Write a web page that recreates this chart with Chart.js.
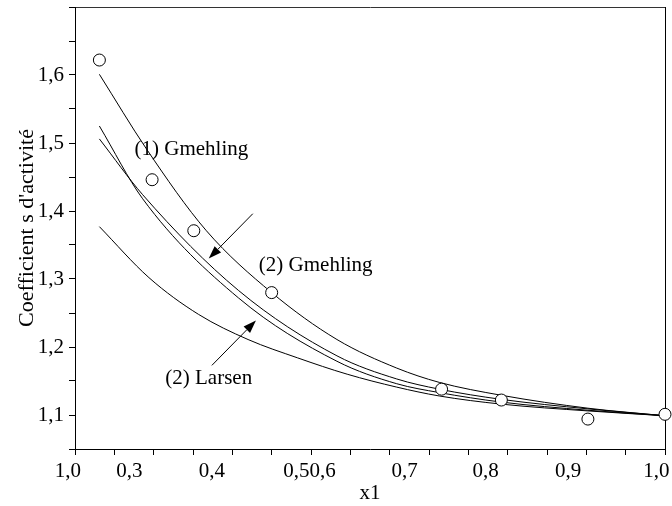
<!DOCTYPE html>
<html>
<head>
<meta charset="utf-8">
<script src="https://cdn.jsdelivr.net/npm/chart.js@4.4.0/dist/chart.umd.min.js"></script>
<style>
  html, body { margin: 0; padding: 0; background: #fff; }
  #wrap { width: 672px; height: 506px; }
</style>
</head>
<body>
<div id="wrap"><canvas id="chart" width="672" height="506"></canvas></div>
<script>
// points expérimentaux
var expX = [0.281, 0.348, 0.401, 0.500, 0.716, 0.792, 0.902, 1.000];
var expY = [1.622, 1.446, 1.371, 1.280, 1.138, 1.122, 1.094, 1.101];

// courbe du haut
var topX = [0.281, 0.341, 0.417, 0.500, 0.583, 0.659, 0.713, 0.792, 0.902, 0.999];
var topY = [1.601, 1.491, 1.371, 1.280, 1.211, 1.169, 1.148, 1.129, 1.110, 1.099];

// les deux courbes du milieu
var midAX = [0.281, 0.336, 0.458, 0.583, 0.659, 0.713, 0.792, 0.902, 0.999];
var midAY = [1.525, 1.418, 1.272, 1.179, 1.146, 1.133, 1.119, 1.107, 1.099];
var midBX = [0.281, 0.336, 0.458, 0.583, 0.659, 0.713, 0.792, 0.902, 0.999];
var midBY = [1.506, 1.424, 1.283, 1.187, 1.153, 1.138, 1.123, 1.109, 1.099];

// courbe du bas
var lowX = [0.281, 0.344, 0.407, 0.470, 0.533, 0.596, 0.659, 0.713, 0.792, 0.902, 0.999];
var lowY = [1.377, 1.302, 1.248, 1.211, 1.184, 1.160, 1.141, 1.128, 1.116, 1.106, 1.099];

// graduations
var xTickLabels = ['1,0', '0,3', '0,4', '0,50,6', '0,7', '0,8', '0,9', '1,0'];
var xTickPos = [0.241, 0.319, 0.424, 0.548, 0.669, 0.772, 0.877, 0.989];
var yTickValues = [1.1, 1.2, 1.3, 1.4, 1.5, 1.6];
var yTickLabels = ['1,1', '1,2', '1,3', '1,4', '1,5', '1,6'];

// textes et flèches
var noteText = ['(1) Gmehling', '(2) Gmehling', '(2) Larsen'];
var noteX = [0.398, 0.556, 0.420];
var noteY = [1.491, 1.320, 1.154];
var arrowFromX = [0.476, 0.424];
var arrowFromY = [1.396, 1.173];
var arrowToX = [0.420, 0.480];
var arrowToY = [1.330, 1.239];

var FONT = '"Liberation Serif", "Times New Roman", serif';

function pts(xs, ys) {
  return xs.map(function (x, i) { return { x: x, y: ys[i] }; });
}

function curve(xs, ys) {
  return {
    data: pts(xs, ys),
    showLine: true,
    borderColor: '#000',
    borderWidth: 1,
    pointRadius: 0,
    cubicInterpolationMode: 'monotone',
    fill: false
  };
}

var notes = {
  id: 'notes',
  afterDatasetsDraw: function (chart) {
    var ctx = chart.ctx, xs = chart.scales.x, ys = chart.scales.y;
    ctx.save();
    ctx.fillStyle = '#000';
    ctx.strokeStyle = '#000';
    ctx.lineWidth = 1;
    ctx.font = '21px ' + FONT;
    ctx.textAlign = 'center';
    ctx.textBaseline = 'middle';
    noteText.forEach(function (t, i) {
      ctx.fillText(t, xs.getPixelForValue(noteX[i]), ys.getPixelForValue(noteY[i]));
    });
    arrowFromX.forEach(function (v, i) {
      var x0 = xs.getPixelForValue(v), y0 = ys.getPixelForValue(arrowFromY[i]);
      var x1 = xs.getPixelForValue(arrowToX[i]), y1 = ys.getPixelForValue(arrowToY[i]);
      var a = Math.atan2(y1 - y0, x1 - x0);
      var L = 13, W = 4.5;
      var bx = x1 - L * Math.cos(a), by = y1 - L * Math.sin(a);
      ctx.beginPath();
      ctx.moveTo(x0, y0);
      ctx.lineTo(bx, by);
      ctx.stroke();
      ctx.beginPath();
      ctx.moveTo(x1, y1);
      ctx.lineTo(bx + W * Math.sin(a), by - W * Math.cos(a));
      ctx.lineTo(bx - W * Math.sin(a), by + W * Math.cos(a));
      ctx.closePath();
      ctx.fill();
    });
    ctx.restore();
  }
};

function noPad(s) {
  s.paddingTop = 0; s.paddingBottom = 0;
  s.paddingLeft = 0; s.paddingRight = 0;
}

new Chart(document.getElementById('chart'), {
  type: 'scatter',
  data: {
    datasets: [
      {
        data: pts(expX, expY),
        showLine: false,
        pointRadius: 6,
        pointBackgroundColor: '#fff',
        pointBorderColor: '#000',
        pointBorderWidth: 1,
        clip: false
      },
      curve(topX, topY),
      curve(midAX, midAY),
      curve(midBX, midBY),
      curve(lowX, lowY)
    ]
  },
  options: {
    responsive: false,
    animation: false,
    devicePixelRatio: 1,
    layout: { padding: 0 },
    plugins: { legend: { display: false }, tooltip: { enabled: false } },
    scales: {
      x: {
        type: 'linear',
        position: 'bottom',
        min: 0.25,
        max: 1.0,
        ticks: { display: false, stepSize: 0.05 },
        grid: { drawOnChartArea: false, tickLength: 6, color: '#000' },
        border: { color: '#000', width: 1 },
        afterFit: function (s) { noPad(s); s.height = 7; }
      },
      x2: {
        type: 'linear',
        position: 'bottom',
        min: 0.25,
        max: 1.0,
        afterBuildTicks: function (s) {
          s.ticks = xTickPos.map(function (v) { return { value: v }; });
        },
        ticks: {
          autoSkip: false,
          maxRotation: 0,
          padding: 3,
          color: '#000',
          font: { family: FONT, size: 21 },
          callback: function (v, i) { return xTickLabels[i]; }
        },
        grid: { display: false, drawTicks: false },
        border: { display: false },
        title: {
          display: true,
          text: 'x1',
          color: '#000',
          padding: { top: 0, bottom: 0 },
          font: { family: FONT, size: 21 }
        },
        afterFit: function (s) { noPad(s); s.height = 50; }
      },
      xTop: {
        type: 'linear',
        position: 'top',
        min: 0,
        max: 1,
        ticks: { display: false },
        grid: { drawOnChartArea: false, drawTicks: false },
        border: { color: '#333', width: 1 },
        afterFit: function (s) { noPad(s); s.height = 5; }
      },
      y: {
        type: 'linear',
        position: 'left',
        min: 1.05,
        max: 1.70,
        ticks: {
          stepSize: 0.05,
          padding: 5,
          color: '#000',
          font: { family: FONT, size: 21 },
          callback: function (v) {
            for (var i = 0; i < yTickValues.length; i++) {
              if (Math.abs(yTickValues[i] - v) < 1e-6) return yTickLabels[i];
            }
            return '';
          }
        },
        grid: { drawOnChartArea: false, tickLength: 6, color: '#000' },
        border: { color: '#000', width: 1 },
        title: {
          display: true,
          text: "Coefficient s d'activité",
          color: '#000',
          padding: 14,
          font: { family: FONT, size: 22 }
        },
        afterFit: function (s) { noPad(s); s.width = 75; }
      },
      yRight: {
        type: 'linear',
        position: 'right',
        min: 0,
        max: 1,
        ticks: { display: false },
        grid: { drawOnChartArea: false, drawTicks: false },
        border: { color: '#000', width: 1 },
        afterFit: function (s) { noPad(s); s.width = 1; }
      }
    }
  },
  plugins: [notes]
});
</script>
</body>
</html>
